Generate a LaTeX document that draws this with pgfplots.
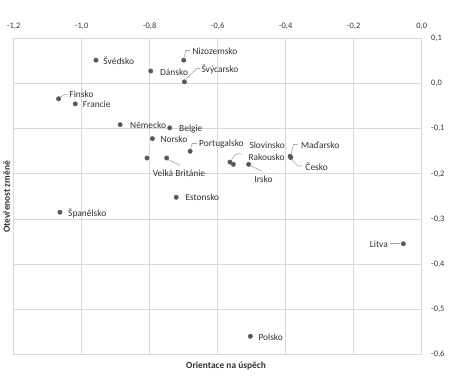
\documentclass[border=0pt]{standalone}
\usepackage{pgfplots}
\pgfplotsset{compat=1.18}
\usepackage{fontspec}
\setmainfont{Carlito}
\definecolor{gridc}{RGB}{217,217,217}
\definecolor{ptc}{RGB}{89,89,89}
\definecolor{leadc}{RGB}{165,165,165}
\definecolor{txtc}{RGB}{50,50,50}
\tikzset{
  lbl/.style={font=\fontsize{9.4}{10}\selectfont, text=txtc, inner sep=0pt},
  leader/.style={draw=leadc, line width=0.6pt},
}
\begin{document}
\begin{tikzpicture}
\path[use as bounding box] (0,0) rectangle (462pt,-390pt);
\begin{axis}[
  at={(13.7pt,-38.5pt)}, anchor=north west,
  scale only axis, width=408pt, height=315.8pt,
  xmin=-1.2, xmax=0, ymin=-0.6, ymax=0.1,
  xtick={-1.2,-1.0,-0.8,-0.6,-0.4,-0.2,0},
  ytick={-0.6,-0.5,-0.4,-0.3,-0.2,-0.1,0,0.1},
  xticklabel pos=upper, yticklabel pos=right,
  major tick length=0pt,
  grid=major, major grid style={draw=gridc, line width=0.8pt},
  axis line style={draw=gridc, line width=0.8pt},
  /pgf/number format/assume math mode=true,
  /pgf/number format/.cd, fixed, fixed zerofill, precision=1, use comma,
  /pgfplots/.cd,
  tick label style={font=\fontsize{8.4}{9}\selectfont, text=txtc},
  xticklabel style={anchor=south, yshift=5.5pt},
  yticklabel style={anchor=west, xshift=6pt},
  clip=false,
]
\addplot[only marks, mark=*, mark size=2.2pt, color=ptc] table {
x y
-0.958 0.052
-0.700 0.052
-0.797 0.028
-0.698 0.004
-1.068 -0.0335
-1.019 -0.045
-0.887 -0.091
-0.741 -0.098
-0.792 -0.122
-0.681 -0.150
-0.808 -0.165
-0.750 -0.165
-0.564 -0.174
-0.554 -0.179
-0.509 -0.179
-0.387 -0.161
-0.385 -0.164
-0.722 -0.252
-1.064 -0.285
-0.054 -0.355
-0.504 -0.560
};
% leader lines
\draw[leader] (axis cs:-0.6982,0.059) -- (axis cs:-0.6941,0.0734) -- (axis cs:-0.6815,0.0734);
\draw[leader] (axis cs:-0.6932,0.0102) -- (axis cs:-0.661,0.0335) -- (axis cs:-0.652,0.0335);
\draw[leader] (axis cs:-1.0638,-0.0304) -- (axis cs:-1.0491,-0.0237) -- (axis cs:-1.0412,-0.0237);
\draw[leader] (axis cs:-0.6806,-0.145) -- (axis cs:-0.6747,-0.1328) -- (axis cs:-0.6609,-0.1328);
\draw[leader] (axis cs:-0.7432,-0.1694) -- (axis cs:-0.7106,-0.1812);
\draw[leader] (axis cs:-0.5594,-0.1683) -- (axis cs:-0.5462,-0.1560) -- (axis cs:-0.5300,-0.1560);
\draw[leader] (axis cs:-0.5021,-0.1827) -- (axis cs:-0.4697,-0.1938);
\draw[leader] (axis cs:-0.3844,-0.1561) -- (axis cs:-0.3771,-0.135) -- (axis cs:-0.3653,-0.135);
\draw[leader] (axis cs:-0.3815,-0.1694) -- (axis cs:-0.3638,-0.1827) -- (axis cs:-0.352,-0.1827);
\draw[leader] (axis cs:-0.0947,-0.355) -- (axis cs:-0.0653,-0.355);
% labels
\node[lbl, anchor=west] at (axis cs:-0.9365,0.050) {Švédsko};
\node[lbl, anchor=west] at (axis cs:-0.6747,0.0723) {Nizozemsko};
\node[lbl, anchor=west] at (axis cs:-0.7697,0.0257) {Dánsko};
\node[lbl, anchor=west] at (axis cs:-0.6482,0.0317) {Švýcarsko};
\node[lbl, anchor=west] at (axis cs:-1.0365,-0.0237) {Finsko};
\node[lbl, anchor=west] at (axis cs:-0.997,-0.0463) {Francie};
\node[lbl, anchor=west] at (axis cs:-0.858,-0.0918) {Německo};
\node[lbl, anchor=west] at (axis cs:-0.7138,-0.1007) {Belgie};
\node[lbl, anchor=west] at (axis cs:-0.7688,-0.1235) {Norsko};
\node[lbl, anchor=west] at (axis cs:-0.655,-0.1333) {Portugalsko};
\node[lbl, anchor=center] at (axis cs:-0.7138,-0.1998) {Velká Británie};
\node[lbl, anchor=west] at (axis cs:-0.507,-0.1368) {Slovinsko};
\node[lbl, anchor=west] at (axis cs:-0.51,-0.1627) {Rakousko};
\node[lbl, anchor=center] at (axis cs:-0.4653,-0.2122) {Irsko};
\node[lbl, anchor=west] at (axis cs:-0.355,-0.1377) {Maďarsko};
\node[lbl, anchor=west] at (axis cs:-0.3424,-0.1843) {Česko};
\node[lbl, anchor=west] at (axis cs:-0.6953,-0.2521) {Estonsko};
\node[lbl, anchor=west] at (axis cs:-1.0403,-0.2876) {Španělsko};
\node[lbl, anchor=east] at (axis cs:-0.099,-0.3557) {Litva};
\node[lbl, anchor=west] at (axis cs:-0.4806,-0.5625) {Polsko};
\end{axis}
\node[font=\fontsize{9.4}{10}\selectfont\bfseries, text=txtc] at (226pt,-366pt) {Orientace na úspěch};
\node[font=\fontsize{9.4}{10}\selectfont\bfseries, text=txtc, rotate=90] at (6.7pt,-197pt) {Otevřenost změně};
\end{tikzpicture}
\end{document}
